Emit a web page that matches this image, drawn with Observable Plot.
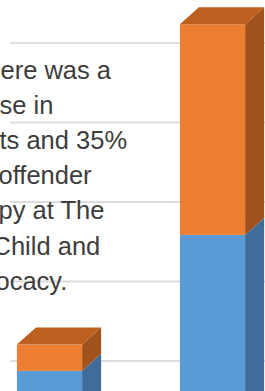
<!DOCTYPE html>
<html>
<head>
<meta charset="utf-8">
<script src="https://cdn.jsdelivr.net/npm/d3@7"></script>
<script src="https://cdn.jsdelivr.net/npm/@observablehq/plot@0.6"></script>
<style>
  html, body { margin: 0; padding: 0; background: #ffffff; overflow: hidden; }
  #chart svg { display: block; }
</style>
</head>
<body>
<div id="chart"></div>
<script>
// ---- data ----
const categories = ["Before", "After"];
const blueValues = [8.7, 25.8];
const orangeValues = [3.3, 26.5];
const gridTicks = [10, 20, 30, 40, 50];
const textLines = ["ere was a", "se in", "ts and 35%", "offender", "py at The", "Child and", "ocacy."];

// ---- styling ----
const W = 265, H = 391;
const barW = 0.4;       // bar width in category units
const depthX = 0.1166;  // 3D depth (x units)
const depthY = 2.14;    // 3D depth (y units)
const colors = {
  blue:   {front: "#5b9bd5", side: "#3e6d99", top: "#4a80b3"},
  orange: {front: "#ed7d31", side: "#9f521c", top: "#bd5f1f"}
};
const fontSize = 25.5;
const firstBaseline = 78, lineStep = 35.2;             // px
const lineShift = [0, -1, -1, -2, -2, -8, -5];         // px (text box clipped at left)

// ---- scales ----
const xDomain = [-0.5, 1.5], xRange = [-32, 294];
const yDomain = [0, 55.35], yRange = [440, 0];
const xInv = d3.scaleLinear().domain(xRange).range(xDomain);
const yInv = d3.scaleLinear().domain(yRange).range(yDomain);

// ---- build segments ----
const segs = [];
categories.forEach((c, i) => {
  const b = blueValues[i], o = orangeValues[i];
  segs.push({id: c + "-blue", i, y0: 0, y1: b, s: "blue"});
  segs.push({id: c + "-orange", i, y0: b, y1: b + o, s: "orange"});
});
const sidePts = segs.flatMap(d => [
  {id: d.id, x: d.i + barW / 2, y1: d.y0, y2: d.y1, fill: colors[d.s].side},
  {id: d.id, x: d.i + barW / 2 + depthX, y1: d.y0 + depthY, y2: d.y1 + depthY, fill: colors[d.s].side}
]);
const tops = categories.map((c, i) => ({id: c, i, y: blueValues[i] + orangeValues[i]}));
const topPts = tops.flatMap(d => [
  {id: d.id, y: d.y, x1: d.i - barW / 2, x2: d.i + barW / 2, fill: colors.orange.top},
  {id: d.id, y: d.y + depthY, x1: d.i - barW / 2 + depthX, x2: d.i + barW / 2 + depthX, fill: colors.orange.top}
]);
const textData = textLines.map((t, k) => ({
  t,
  x: xInv(lineShift[k]),
  y: yInv(firstBaseline + lineStep * k)
}));

const chart = Plot.plot({
  width: W,
  height: H,
  margin: 0,
  style: {background: "#ffffff", fontFamily: "'Liberation Sans', Arial, sans-serif"},
  x: {type: "linear", domain: xDomain, range: xRange, axis: null},
  y: {type: "linear", domain: yDomain, range: yRange, axis: null},
  color: {type: "identity"},
  marks: [
    Plot.ruleY(gridTicks, {x1: xInv(10), x2: 1.5, stroke: "#dcdcdc", strokeWidth: 1.8}),
    Plot.areaY(sidePts, {x: "x", y1: "y1", y2: "y2", z: "id", fill: "fill"}),
    Plot.rect(segs, {x1: d => d.i - barW / 2, x2: d => d.i + barW / 2, y1: "y0", y2: "y1", fill: d => colors[d.s].front}),
    Plot.areaX(topPts, {y: "y", x1: "x1", x2: "x2", z: "id", fill: "fill"}),
    Plot.text(textData, {
      x: "x", y: "y", text: "t",
      textAnchor: "start", lineAnchor: "bottom",
      fontSize, fill: "#3d3d3d"
    })
  ]
});
document.getElementById("chart").appendChild(chart);
</script>
</body>
</html>
